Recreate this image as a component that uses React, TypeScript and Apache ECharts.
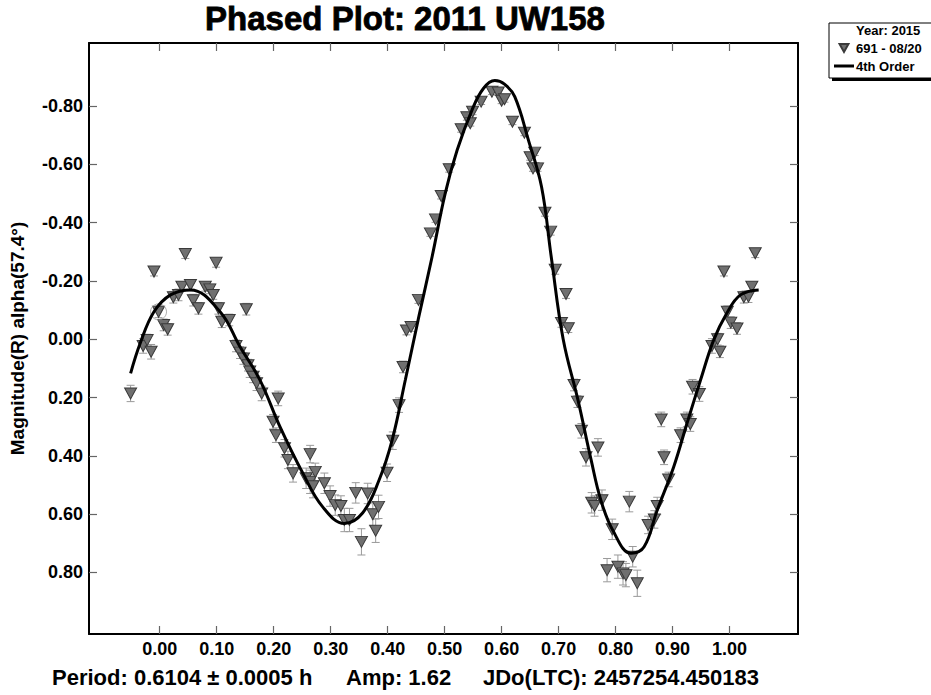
import React, { useEffect, useRef } from "react";
import * as echarts from "echarts";

// Observations (phase, magnitude, error)
const obsPhase = [
  -0.051, -0.029, -0.022, -0.015, -0.01, -0.002, 0.007, 0.014, 0.024, 0.033,
  0.039, 0.045, 0.054, 0.059, 0.068, 0.08, 0.088, 0.094, 0.099, 0.103,
  0.109, 0.122, 0.134, 0.141, 0.147, 0.152, 0.155, 0.158, 0.164, 0.17,
  0.179, 0.199, 0.204, 0.208, 0.219, 0.225, 0.234, 0.257, 0.264, 0.264,
  0.269, 0.273, 0.289, 0.299, 0.308, 0.318, 0.324, 0.333, 0.344, 0.354,
  0.365, 0.374, 0.379, 0.384, 0.399, 0.409, 0.42, 0.427, 0.433, 0.441,
  0.454, 0.475, 0.484, 0.494, 0.508, 0.529, 0.539, 0.545, 0.549, 0.564,
  0.583, 0.594, 0.6, 0.605, 0.619, 0.64, 0.65, 0.655, 0.658, 0.663,
  0.676, 0.686, 0.694, 0.705, 0.713, 0.717, 0.727, 0.733, 0.74, 0.748,
  0.758, 0.763, 0.769, 0.776, 0.785, 0.794, 0.804, 0.813, 0.818, 0.824,
  0.83, 0.838, 0.857, 0.868, 0.873, 0.88, 0.885, 0.893, 0.914, 0.925,
  0.931, 0.935, 0.947, 0.969, 0.979, 0.983, 0.99, 0.996, 1.002, 1.013,
  1.025, 1.033, 1.039, 1.045,
];
const obsMag = [
  0.186, 0.023, 0.003, 0.043, -0.232, -0.094, -0.049, -0.034, -0.144, -0.152,
  -0.18, -0.292, -0.186, -0.134, -0.106, -0.18, -0.171, -0.152, -0.262, -0.106,
  -0.06, -0.066, 0.023, 0.046, 0.066, -0.103, 0.089, 0.111, 0.129, 0.151,
  0.186, 0.283, 0.329, 0.203, 0.374, 0.414, 0.46, 0.477, 0.394, 0.489,
  0.504, 0.455, 0.494, 0.538, 0.569, 0.572, 0.62, 0.62, 0.527, 0.695,
  0.529, 0.6, 0.657, 0.575, 0.458, 0.348, 0.226, 0.095, -0.03, -0.042,
  -0.135, -0.363, -0.411, -0.491, -0.583, -0.72, -0.761, -0.741, -0.78, -0.815,
  -0.849, -0.846, -0.818, -0.823, -0.746, -0.708, -0.624, -0.586, -0.64, -0.586,
  -0.434, -0.369, -0.238, -0.056, -0.155, -0.038, 0.157, 0.214, 0.314, 0.405,
  0.561, 0.572, 0.371, 0.552, 0.792, 0.652, 0.78, 0.803, 0.809, 0.557,
  0.746, 0.837, 0.637, 0.618, 0.572, 0.275, 0.405, 0.481, 0.329, 0.275,
  0.291, 0.163, 0.188, 0.023, 0.0, 0.043, -0.232, -0.094, -0.057, -0.037,
  -0.144, -0.146, -0.18, -0.295,
];
const obsErr = [
  0.028, 0.025, 0.02, 0.025, 0.015, 0.02, 0.02, 0.02, 0.02, 0.02,
  0.015, 0.015, 0.015, 0.02, 0.02, 0.015, 0.015, 0.015, 0.015, 0.02,
  0.02, 0.02, 0.02, 0.02, 0.02, 0.02, 0.02, 0.02, 0.02, 0.025,
  0.025, 0.025, 0.025, 0.025, 0.03, 0.03, 0.03, 0.035, 0.03, 0.04,
  0.04, 0.03, 0.035, 0.035, 0.035, 0.035, 0.04, 0.04, 0.035, 0.045,
  0.035, 0.04, 0.04, 0.04, 0.03, 0.03, 0.025, 0.02, 0.015, 0.015,
  0.012, 0.01, 0.01, 0.01, 0.01, 0.01, 0.01, 0.01, 0.01, 0.01,
  0.01, 0.01, 0.01, 0.01, 0.01, 0.01, 0.01, 0.01, 0.01, 0.01,
  0.012, 0.012, 0.015, 0.015, 0.015, 0.015, 0.02, 0.02, 0.025, 0.03,
  0.035, 0.035, 0.03, 0.035, 0.04, 0.035, 0.04, 0.04, 0.04, 0.035,
  0.035, 0.045, 0.03, 0.03, 0.03, 0.025, 0.025, 0.025, 0.025, 0.025,
  0.025, 0.025, 0.025, 0.025, 0.02, 0.02, 0.015, 0.02, 0.02, 0.02,
  0.02, 0.02, 0.015, 0.015,
];

// 4th order Fourier fit curve
const fitPhase = [
  -0.051, -0.034, -0.01, 0.019, 0.054, 0.106, 0.141, 0.176, 0.211, 0.251,
  0.286, 0.324, 0.356, 0.385, 0.408, 0.431, 0.455, 0.478, 0.501,
  0.522, 0.548, 0.568, 0.588, 0.605, 0.623, 0.647, 0.67, 0.687, 0.708,
  0.734, 0.757, 0.774, 0.795, 0.827, 0.85, 0.873, 0.902, 0.925, 0.949,
  0.972, 0.995, 1.019, 1.051,
];
const fitMag = [
  0.117, 0.013, -0.094, -0.152, -0.169, -0.094, 0.026, 0.14, 0.3, 0.459,
  0.575, 0.632, 0.596, 0.483, 0.345, 0.14, -0.08, -0.283, -0.5,
  -0.649, -0.786, -0.86, -0.887, -0.875, -0.832, -0.683, -0.523, -0.283, 0.0,
  0.209, 0.414, 0.551, 0.655, 0.734, 0.712, 0.586, 0.437, 0.29, 0.14,
  0.003, -0.089, -0.152, -0.169,
];

const highlightPoint = [[-0.002, -0.094]];

const xTicks = [0, 0.1, 0.2, 0.3, 0.4, 0.5, 0.6, 0.7, 0.8, 0.9, 1.0];
const yTicks = [-0.8, -0.6, -0.4, -0.2, 0, 0.2, 0.4, 0.6, 0.8];

const chartTitle = "Phased Plot: 2011 UW158";
const yName = "Magnitude(R) alpha(57.4°)";
const legendYear = "Year: 2015";
const seriesObsName = "691 - 08/20";
const seriesFitName = "4th Order";
const footPeriod = "Period: 0.6104 ± 0.0005 h";
const footAmp = "Amp: 1.62";
const footJD = "JDo(LTC): 2457254.450183";

const FONT = "'Liberation Sans', Arial, sans-serif";

export default function App() {
  const ref = useRef<HTMLDivElement>(null);
  useEffect(() => {
    document.body.style.margin = "0";
    if (!ref.current) return;
    const chart = echarts.init(ref.current, null, { renderer: "svg" });
    const fmt = (v: number) => (Math.abs(v) < 1e-9 ? "0.00" : v.toFixed(2));
    const tickStyle = { color: "#666666", width: 1.2 };
    const lineSt = { show: true, onZero: false, lineStyle: { color: "#000", width: 2 } };
    const xBase = {
      type: "value" as const,
      min: -0.124,
      max: 1.12,
      splitLine: { show: false },
      axisLine: lineSt,
    };
    const yBase = {
      type: "value" as const,
      min: -1.016,
      max: 1.011,
      inverse: true,
      splitLine: { show: false },
      axisLine: lineSt,
    };
    const obsData = obsPhase.map((p, i) => [p, obsMag[i], obsErr[i]]);
    const fitData = fitPhase.map((p, i) => [p, fitMag[i]]);
    chart.setOption({
      animation: false,
      backgroundColor: "#ffffff",
      textStyle: { fontFamily: FONT },
      grid: {
        left: 85,
        right: 133,
        top: 43,
        bottom: 61,
        show: false,
      },
      xAxis: [
        {
          ...xBase,
          position: "bottom",
          axisTick: { show: true, inside: true, length: 8, lineStyle: tickStyle, customValues: xTicks },
          axisLabel: {
            customValues: xTicks,
            formatter: fmt,
            margin: 6,
            color: "#000",
            fontSize: 18,
            fontWeight: "bold",
            fontFamily: FONT,
          },
        },
        {
          ...xBase,
          position: "top",
          axisTick: { show: true, inside: true, length: 8, lineStyle: tickStyle, customValues: xTicks },
          axisLabel: { show: false },
        },
      ],
      yAxis: [
        {
          ...yBase,
          position: "left",
          name: yName,
          nameLocation: "middle",
          nameGap: 62,
          nameTextStyle: { fontSize: 19, fontWeight: "bold", color: "#000", fontFamily: FONT },
          axisTick: { show: true, inside: true, length: 8, lineStyle: tickStyle, customValues: yTicks },
          axisLabel: {
            customValues: yTicks,
            formatter: fmt,
            margin: 6,
            color: "#000",
            fontSize: 18,
            fontWeight: "bold",
            fontFamily: FONT,
          },
        },
        {
          ...yBase,
          position: "right",
          axisTick: { show: true, inside: true, length: 8, lineStyle: tickStyle, customValues: yTicks },
          axisLabel: { show: false },
        },
      ],
      legend: {
        show: true,
        orient: "vertical",
        left: 834,
        top: 41,
        padding: 0,
        itemGap: 4,
        itemWidth: 20,
        itemHeight: 8,
        selectedMode: false,
        textStyle: { fontSize: 13, fontWeight: "bold", color: "#000", fontFamily: FONT, lineHeight: 14, padding: [0, 0, 0, -3] },
        data: [
          { name: seriesObsName, icon: "path://M0,0 L10,0 L5,9 Z" },
          { name: seriesFitName, icon: "path://M0,0 L20,0 L20,3 L0,3 Z" },
        ],
        z: 10,
      },
      series: [
        {
          type: "custom",
          name: "errors",
          xAxisIndex: 0,
          yAxisIndex: 0,
          data: obsData,
          encode: { x: 0, y: 1 },
          z: 2,
          silent: true,
          renderItem: (params: any, api: any) => {
            const x = api.value(0);
            const y = api.value(1);
            const e = api.value(2);
            const a = api.coord([x, y - e]);
            const b = api.coord([x, y + e]);
            const hw = 4;
            const st = { stroke: "#9a9a9a", lineWidth: 1 };
            return {
              type: "group",
              children: [
                { type: "line", shape: { x1: a[0], y1: a[1], x2: b[0], y2: b[1] }, style: st },
                { type: "line", shape: { x1: a[0] - hw, y1: a[1], x2: a[0] + hw, y2: a[1] }, style: st },
                { type: "line", shape: { x1: b[0] - hw, y1: b[1], x2: b[0] + hw, y2: b[1] }, style: st },
              ],
            };
          },
        },
        {
          type: "scatter",
          name: seriesObsName,
          xAxisIndex: 0,
          yAxisIndex: 0,
          data: obsData,
          encode: { x: 0, y: 1 },
          symbol: "triangle",
          symbolRotate: 180,
          symbolSize: [12, 11],
          itemStyle: { color: "#707070", borderColor: "#3a3a3a", borderWidth: 1, opacity: 1 },
          z: 3,
        },
        {
          type: "scatter",
          name: "highlight",
          xAxisIndex: 0,
          yAxisIndex: 0,
          data: highlightPoint,
          symbol: "circle",
          symbolSize: 16,
          itemStyle: { color: "transparent", borderColor: "#9a9a9a", borderWidth: 1 },
          z: 4,
          silent: true,
        },
        {
          type: "line",
          name: seriesFitName,
          xAxisIndex: 0,
          yAxisIndex: 0,
          data: fitData,
          smooth: 0.4,
          symbol: "none",
          showSymbol: false,
          lineStyle: { color: "#000", width: 3 },
          itemStyle: { color: "#000" },
          z: 5,
        },
      ],
      graphic: [
        {
          type: "text",
          style: {
            text: chartTitle,
            x: 405,
            y: 18,
            align: "center",
            verticalAlign: "middle",
            font: `bold 33px ${FONT}`,
            fill: "#000",
            stroke: "#000",
            lineWidth: 0.8,
          },
          z: 20,
        },
        {
          type: "rect",
          shape: { x: 832, y: 26, width: 110, height: 55 },
          style: { fill: "#000" },
          z: 5,
        },
        {
          type: "rect",
          shape: { x: 829, y: 23, width: 110, height: 55 },
          style: { fill: "#fff", stroke: "#000", lineWidth: 1 },
          z: 6,
        },
        {
          type: "text",
          style: {
            text: legendYear,
            x: 856,
            y: 30,
            verticalAlign: "middle",
            font: `bold 13px ${FONT}`,
            fill: "#000",
          },
          z: 20,
        },
        {
          type: "text",
          style: {
            text: footPeriod,
            x: 52,
            y: 677,
            verticalAlign: "middle",
            font: `bold 22px ${FONT}`,
            fill: "#000",
          },
          z: 20,
        },
        {
          type: "text",
          style: {
            text: footAmp,
            x: 346,
            y: 677,
            verticalAlign: "middle",
            font: `bold 22px ${FONT}`,
            fill: "#000",
          },
          z: 20,
        },
        {
          type: "text",
          style: {
            text: footJD,
            x: 483,
            y: 677,
            verticalAlign: "middle",
            font: `bold 22px ${FONT}`,
            fill: "#000",
          },
          z: 20,
        },
      ],
    });
    return () => chart.dispose();
  }, []);
  return <div ref={ref} style={{ width: 931, height: 695 }} />;
}
